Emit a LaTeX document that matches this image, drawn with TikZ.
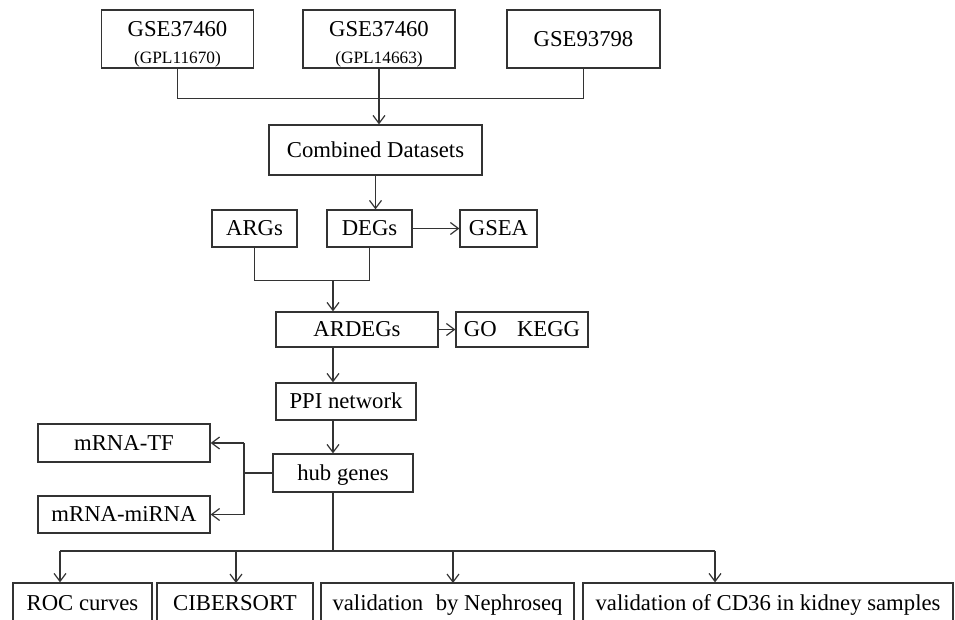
\documentclass[tikz,border=0pt]{standalone}
\usepackage{fontspec}
\setmainfont{Liberation Serif}
\usepackage{tikz}
\usetikzlibrary{arrows.meta,positioning}

\begin{document}
\begin{tikzpicture}[
  x=1pt, y=-1pt,
  font=\fontsize{22.7pt}{27pt}\selectfont,
  line width=1.2pt, draw=black!80,
  box/.style={draw=black!80, line width=1.2pt, inner sep=0pt,
              text height=17pt, text depth=3pt},
  gsebox/.style={draw=black!80, line width=1.2pt, inner sep=0pt,
                 align=center, minimum width=152pt, minimum height=58pt},
  arr/.style={-{Straight Barb[length=8pt,width=12pt]}}
]
\clip (0,0) rectangle (955,619);

% datasets
\node[gsebox] (gse1) at (177.5,39)
  {\rule{0pt}{25.6pt}GSE37460\\{\fontsize{17.3pt}{20pt}\selectfont (GPL11670)}};
\node[gsebox] (gse2) at (379,39)
  {\rule{0pt}{25.6pt}GSE37460\\{\fontsize{17.3pt}{20pt}\selectfont (GPL14663)}};
\node[box, minimum width=153pt, minimum height=58pt] (gse3) at (583.5,39) {GSE93798};

\node[box, minimum width=213pt, minimum height=50pt] (comb) at (375.5,150)
  {Combined Datasets};

\draw (gse1.south) -- ++(0,30) -| (gse3.south);
\draw[arr] (gse2.south) -- (gse2.south |- comb.north);

% gene sets
\node[box, minimum width=85pt, minimum height=37pt] (args) at (254.5,228.5) {ARGs};
\node[box, minimum width=85pt, minimum height=37pt] (degs) at (369.5,228.5) {DEGs};
\node[box, minimum width=77pt, minimum height=37pt] (gsea) at (498.5,228.5) {GSEA};

\draw[arr] (comb.south) -- (comb.south |- degs.north);
\draw[arr] (degs) -- (gsea);

\node[box, minimum width=162pt, minimum height=35pt] (ardegs) at (357,329.5) {ARDEGs};
\node[box, minimum width=132pt, minimum height=35pt] (gokegg) at (522,329.5)
  {GO\hspace{0.9em}KEGG};

\coordinate (mrg) at (333,280);
\draw (args.south) -- ++(0,33) -| (degs.south);
\draw[arr] (mrg) -- (mrg |- ardegs.north);
\draw[arr] (ardegs) -- (gokegg);

% network
\node[box, minimum width=140pt, minimum height=37pt] (ppi) at (346,401.5) {PPI network};
\node[box, minimum width=140pt, minimum height=38pt] (hub) at (343,473) {hub genes};

\draw[arr] (mrg |- ardegs.south) -- (mrg |- ppi.north);
\draw[arr] (mrg |- ppi.south) -- (mrg |- hub.north);

\node[box, minimum width=172pt, minimum height=38pt] (tf) at (124,443) {mRNA-TF};
\node[box, minimum width=172pt, minimum height=37pt] (mirna) at (124,514.5) {mRNA-miRNA};

\coordinate (split) at (244,473);
\draw (hub.west) -- (split);
\draw[arr] (split |- tf.east) -- (tf.east);
\draw (split |- tf.east) -- (split |- mirna.east);
\draw[arr] (split |- mirna.east) -- (mirna.east);

% analyses
\node[box, minimum width=139pt, minimum height=40pt] (roc) at (82.5,603) {ROC curves};
\node[box, minimum width=156pt, minimum height=40pt] (cib) at (235,603) {CIBERSORT};
\node[box, minimum width=253pt, minimum height=40pt] (neph) at (447.5,603)
  {validation\hspace{0.3em} by Nephroseq};
\node[box, minimum width=370pt, minimum height=40pt] (cd) at (768,603)
  {validation of CD36 in kidney samples};

\coordinate (bus) at (333,551);
\draw (mrg |- hub.south) -- (bus);
\draw (60,551) coordinate (busl) -- (715,551) coordinate (busr);
\draw[arr] (busl) -- (busl |- roc.north);
\draw[arr] (236,551) -- (236,583);
\draw[arr] (453,551) -- (453,583);
\draw[arr] (busr) -- (busr |- cd.north);

\end{tikzpicture}
\end{document}
